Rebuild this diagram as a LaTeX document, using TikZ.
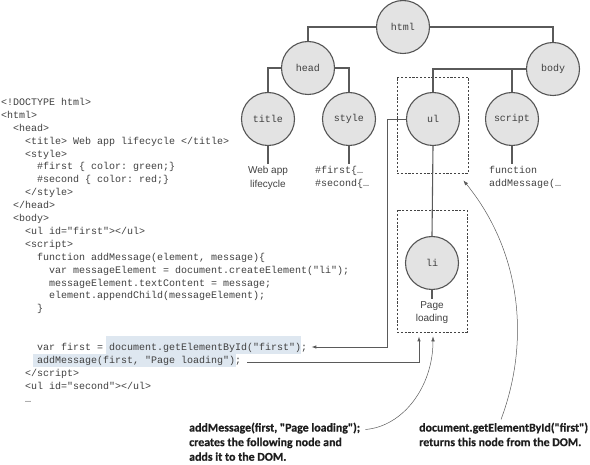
\documentclass[tikz,border=0pt]{standalone}
\usepackage{fontspec}
\setmainfont{Liberation Sans}
\setmonofont{Liberation Mono}
\newfontfamily\labfont{Carlito}[BoldFeatures={FakeBold=0.6}]
\usetikzlibrary{arrows.meta}
\definecolor{circfill}{HTML}{E3E3E3}
\definecolor{circdraw}{HTML}{555555}
\definecolor{linecol}{HTML}{5A5A5A}
\definecolor{boxcol}{HTML}{444444}
\definecolor{codecol}{HTML}{404040}
\definecolor{hlcol}{HTML}{DEE7F0}
\definecolor{labcol}{HTML}{1E1E1E}
\tikzset{
  dom/.style={circle, draw=circdraw, fill=circfill, line width=1.1pt, minimum size=53pt, inner sep=0pt, font=\ttfamily\fontsize{10}{12}\selectfont, text=codecol},
  link/.style={draw=linecol, line width=1.1pt},
  dbox/.style={draw=boxcol, dash pattern=on 2.2pt off 1.6pt, line width=0.8pt, inner sep=0pt},
  code/.style={anchor=base west, inner sep=0pt, font=\ttfamily\fontsize{10}{12}\selectfont, text=codecol},
  leaftext/.style={inner sep=2pt, align=center, font=\fontsize{10}{13.5}\selectfont, text=codecol},
  leafcode/.style={inner sep=2pt, align=left, font=\ttfamily\fontsize{10}{13}\selectfont, text=codecol},
  arr/.style={draw=linecol, line width=0.9pt, -{Latex[length=5pt,width=3.6pt]}},
  callout/.style={draw=linecol, line width=0.5pt, -{Latex[length=5pt,width=3.6pt]}},
  hl/.style={fill=hlcol, draw=none},
  lab/.style={anchor=north west, inner sep=0pt, align=left, font=\labfont\bfseries\fontsize{11.9}{14.6}\selectfont, text=labcol}
}
\begin{document}
\begin{tikzpicture}[x=1pt,y=-1pt]
\useasboundingbox (0,0) rectangle (590,465);

% highlights
\fill[hl] (106,336) rectangle (301,354);
\fill[hl] (33,354) rectangle (236,367);

% code lines
\node[code] (c1) at (1,105.5) {<!DOCTYPE html>};
\node[code] (c2) at (1,118.4) {<html>};
\node[code] (c3) at (13,131.3) {<head>};
\node[code] (c4) at (25,144.2) {<title> Web app lifecycle </title>};
\node[code] (c5) at (25,157.1) {<style>};
\node[code] (c6) at (37,170) {\#first \{ color: green;\}};
\node[code] (c7) at (37,182.9) {\#second \{ color: red;\}};
\node[code] (c8) at (25,195.8) {</style>};
\node[code] (c9) at (13,208.7) {</head>};
\node[code] (c10) at (13,221.6) {<body>};
\node[code] (c11) at (25,234.5) {<ul id="first"></ul>};
\node[code] (c12) at (25,247.4) {<script>};
\node[code] (c13) at (37,260.3) {function addMessage(element, message)\{};
\node[code] (c14) at (49,273.2) {var messageElement = document.createElement("li");};
\node[code] (c15) at (49,286.1) {messageElement.textContent = message;};
\node[code] (c16) at (49,299) {element.appendChild(messageElement);};
\node[code] (c17) at (37,311.9) {\}};
\node[code] (c18) at (37,350.6) {var first = document.getElementById("first");};
\node[code] (c19) at (37,363.5) {addMessage(first, "Page loading");};
\node[code] (c20) at (25,376.4) {</script>};
\node[code] (c21) at (25,389.3) {<ul id="second"></ul>};
\node[code] (c22) at (25,402.2) {…};

% dashed boxes
\node[dbox, minimum width=71pt, minimum height=96pt] (ulbox) at (432.5,125) {};
\node[dbox, minimum width=70pt, minimum height=122pt] (libox) at (432,271) {};

% DOM tree
\node[dom] (html) at (403,27) {html};
\node[dom] (head) at (308,68) {head};
\node[dom] (body) at (553,69) {body};
\node[dom] (title) at (268,119) {title};
\node[dom] (style) at (349,119) {style};
\node[dom] (ul) at (433,119) {ul};
\node[dom] (script) at (512,119) {script};
\node[dom] (li) at (432,263) {li};

\node[leaftext, anchor=north] (wt) at (268,164.5) {Web app\\lifecycle};
\node[leafcode, anchor=north west] (st) at (313,164) {\#first\{…\\\#second\{…};
\node[leafcode, anchor=north west] (sc) at (487,164) {function\\addMessage(…};
\node[leaftext, anchor=north] (pl) at (432,299) {Page\\loading};

\draw[link] (html.west) -| (head.north);
\draw[link] (html.east) -| (body.north);
\draw[link] (head.west) -| (title.north);
\draw[link] (head.east) -| (style.north);
\draw[link] (body.west) -| (ul.north);
\draw[link] (script.north) -- (script.north |- body.west);
\draw[link] (ul.south) -- (li.north);
\draw[link] (title.south) -- (wt.north);
\draw[link] (style.south) -- (style.south |- st.north);
\draw[link] (script.south) -- (script.south |- sc.north);
\draw[link] (li.south) -- (pl.north);

% arrows to code
\coordinate (k1) at (387,119);
\draw[arr] (ul.west) -- (k1) |- ([shift={(4,-3.6)}]c18.base east);
\draw[arr] ([shift={(6,-1)}]c19.base east) -| ([shift={(-13,4)}]libox.south);

% labels
\node[lab] (lab1) at (189,422.5) {addMessage(first, "Page loading");\\creates the following node and\\adds it to the DOM.};
\node[lab] (lab2) at (419,422.5) {document.getElementById("first")\\returns this node from the DOM.};

\draw[callout] ([shift={(5,7)}]lab1.north east) .. controls +(38,-3) and +(0,50) .. ([shift={(1,4)}]libox.south);
\draw[callout] ([shift={(82,-3)}]lab2.north west) .. controls +(30,-80) and +(57,70) .. ([shift={(-5,7)}]ulbox.south east);
\end{tikzpicture}
\end{document}
